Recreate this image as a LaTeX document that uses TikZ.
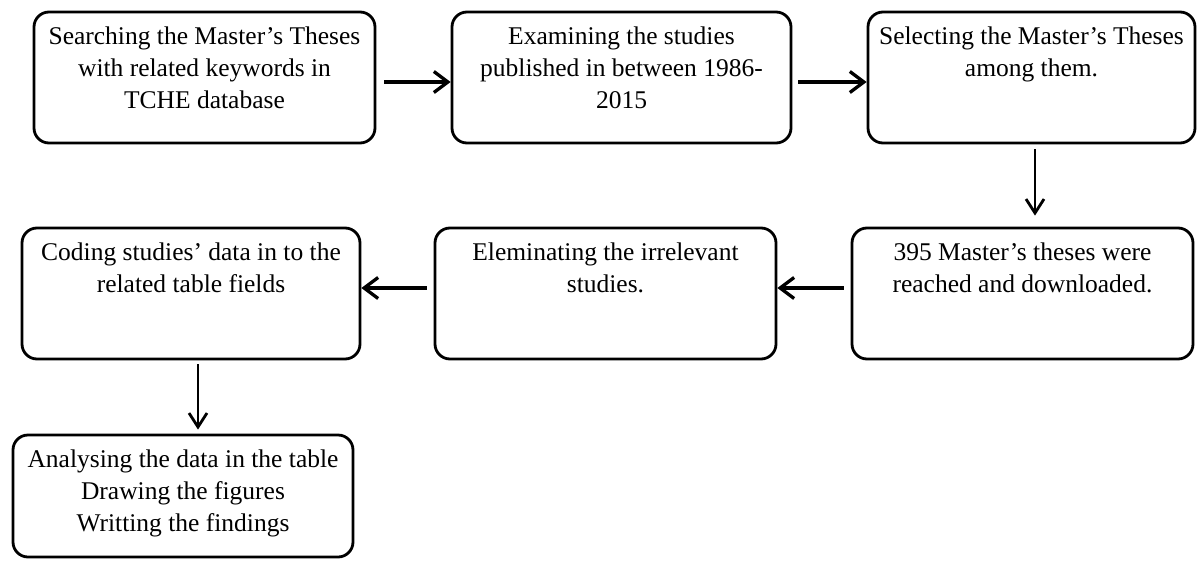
\documentclass[tikz,border=0pt]{standalone}
\usepackage{fontspec}
\setmainfont{Liberation Serif}
\usetikzlibrary{arrows.meta}
\newcommand\boxtext[3]{\parbox[c][#2][t]{#1}{\centering\fontsize{25.5}{32}\selectfont\rule{0pt}{32pt}#3}}
\begin{document}
\begin{tikzpicture}[x=1pt,y=-1pt,
  box/.style={draw, line width=2.8pt, rounded corners=15pt, inner sep=0pt},
  arr/.style={-{Straight Barb[length=14pt,width=21pt]}, line width=3.3pt},
  varr/.style={-{Straight Barb[length=14pt,width=18pt]}, line width=2.8pt}]
\useasboundingbox (0,0) rectangle (1197,560);
\fill[white] (0,0) rectangle (1197,560);
\node[box] (b1) at (204.5,77.5) {\boxtext{341pt}{131pt}{Searching the Master’s Theses\\with related keywords in\\TCHE database}};
\node[box] (b2) at (621.5,77.5) {\boxtext{339pt}{131pt}{Examining the studies\\published in between 1986-\\2015}};
\node[box] (b3) at (1031.5,77.5) {\boxtext{327pt}{131pt}{Selecting the Master’s Theses\\among them.}};
\node[box] (b6) at (1022.5,293.5) {\boxtext{341pt}{131pt}{395 Master’s theses were\\reached and downloaded.}};
\node[box] (b5) at (605.5,293.5) {\boxtext{341pt}{131pt}{Eleminating the irrelevant\\studies.}};
\node[box] (b4) at (191,293.5) {\boxtext{338pt}{131pt}{Coding studies’ data in to the\\related table fields}};
\node[box] (b7) at (183,496) {\boxtext{340pt}{122pt}{Analysing the data in the table\\Drawing the figures\\Writting the findings}};
\draw[arr, shorten <=8pt] ([yshift=-4.5pt]b1.east) -- ([yshift=-4.5pt]b2.west);
\draw[arr, shorten <=6pt] ([yshift=-4.5pt]b2.east) -- ([yshift=-4.5pt]b3.west);
\draw[varr, shorten <=5pt, shorten >=11pt] ([xshift=3.5pt]b3.south) -- ([xshift=3.5pt]b3.south |- b6.north);
\draw[arr, shorten <=7pt] ([yshift=5.5pt]b6.west) -- ([yshift=5.5pt]b6.west -| b5.east);
\draw[arr, shorten <=7pt] ([yshift=5.5pt]b5.west) -- ([yshift=5.5pt]b5.west -| b4.east);
\draw[varr, shorten <=4pt, shorten >=4pt] ([xshift=7pt]b4.south) -- ([xshift=7pt]b4.south |- b7.north);
\end{tikzpicture}
\end{document}
